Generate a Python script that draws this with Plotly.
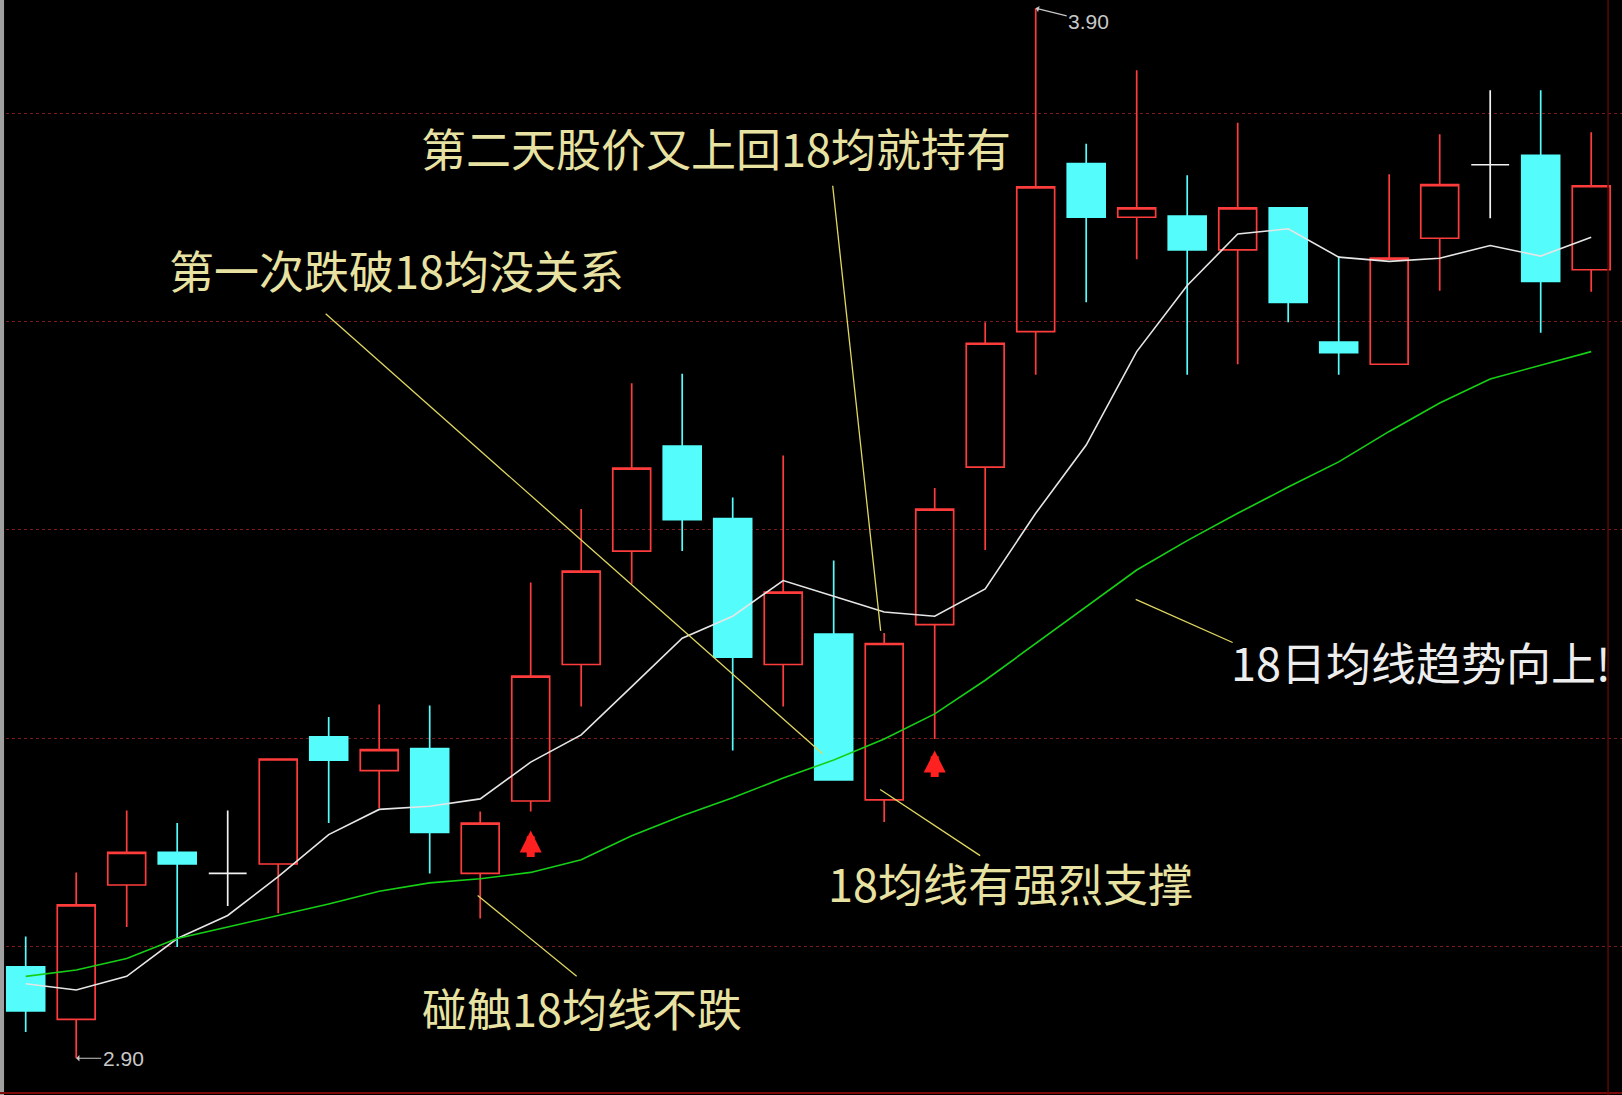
import plotly.graph_objects as go

# ---------------- data ----------------
days = list(range(1, 33))
open_ = [2.987, 2.937, 3.065, 3.096, 3.076, 3.085, 3.206, 3.174, 3.195, 3.076,
         3.145, 3.275, 3.383, 3.483, 3.414, 3.275, 3.304, 3.146, 3.313, 3.463,
         3.592, 3.752, 3.701, 3.702, 3.670, 3.710, 3.582, 3.561, 3.681, 3.751,
         3.760, 3.651]
high = [3.016, 3.077, 3.136, 3.124, 3.136, 3.185, 3.225, 3.237, 3.236, 3.135,
        3.353, 3.423, 3.543, 3.552, 3.434, 3.474, 3.374, 3.305, 3.443, 3.601,
        3.900, 3.771, 3.841, 3.741, 3.791, 3.710, 3.664, 3.742, 3.780, 3.822,
        3.822, 3.782]
low = [2.925, 2.900, 3.025, 3.006, 3.045, 3.038, 3.124, 3.138, 3.076, 3.033,
       3.135, 3.235, 3.352, 3.383, 3.193, 3.235, 3.165, 3.125, 3.204, 3.384,
       3.551, 3.620, 3.661, 3.551, 3.561, 3.601, 3.551, 3.561, 3.631, 3.700,
       3.591, 3.630]
close = [2.945, 3.046, 3.096, 3.085, 3.076, 3.185, 3.184, 3.194, 3.115, 3.124,
         3.264, 3.364, 3.462, 3.413, 3.282, 3.344, 3.165, 3.295, 3.423, 3.581,
         3.730, 3.701, 3.710, 3.670, 3.710, 3.620, 3.572, 3.662, 3.732, 3.751,
         3.640, 3.731]
ma_short = [2.971, 2.965, 2.978, 3.014, 3.036, 3.073, 3.113, 3.137, 3.140, 3.147,
            3.182, 3.208, 3.254, 3.300, 3.321, 3.355, 3.340, 3.325, 3.321, 3.347,
            3.419, 3.484, 3.573, 3.636, 3.685, 3.690, 3.663, 3.659, 3.662, 3.674,
            3.664, 3.682]
ma18 = [2.978, 2.984, 2.995, 3.014, 3.025, 3.036, 3.047, 3.059, 3.067, 3.071,
        3.077, 3.089, 3.112, 3.131, 3.148, 3.167, 3.184, 3.204, 3.228, 3.260,
        3.295, 3.330, 3.365, 3.393, 3.419, 3.444, 3.468, 3.497, 3.524, 3.547,
        3.560, 3.573]
grid_prices = [3.800, 3.602, 3.404, 3.205, 3.006]
price_low_label = "2.90"
price_high_label = "3.90"

# annotation texts: (text, x, y, colour)
notes = [
    ("第二天股价又上回18均就持有", 14.67, 3.767, "#E8E2A2"),
    ("第一次跌破18均没关系", 8.35, 3.651, "#E8E2A2"),
    ("18日均线趋势向上!", 28.63, 3.278, "#EDEDED"),
    ("18均线有强烈支撑", 20.51, 3.067, "#E8E2A2"),
    ("碰触18均线不跌", 12.02, 2.948, "#E8E2A2"),
]
# callout lines: (x0, y0, x1, y1)
callouts = [
    (16.98, 3.731, 17.93, 3.307),
    (6.94, 3.609, 16.78, 3.190),
    (22.98, 3.337, 24.90, 3.296),
    (17.92, 3.156, 19.90, 3.093),
    (9.95, 3.055, 11.91, 2.978),
]
# red signal arrows (day, price of arrow tip)
signal_days = [11, 19]
signal_prices = [3.117, 3.193]

RED = "#FF3C3C"
CYAN = "#54FCFC"
WHITE = "#F2F2F2"

n = len(days)
up = [i for i in range(n) if close[i] > open_[i]]
dn = [i for i in range(n) if close[i] < open_[i]]
dj = [i for i in range(n) if close[i] == open_[i]]


def sub(arr, idx):
    return [arr[i] for i in idx]


fig = go.Figure()


def add_candles(idx, line_color, fill_color, name):
    style = dict(line=dict(color=line_color, width=1.7), fillcolor=fill_color)
    fig.add_trace(go.Candlestick(
        x=sub(days, idx), open=sub(open_, idx), high=sub(high, idx),
        low=sub(low, idx), close=sub(close, idx),
        increasing=style, decreasing=style, whiskerwidth=0,
        name=name, showlegend=False, hoverinfo="x+y"))


add_candles(up, RED, "rgba(0,0,0,0)", "阳线")
add_candles(dn, CYAN, CYAN, "阴线")
add_candles(dj, WHITE, WHITE, "十字星")

fig.add_trace(go.Scatter(x=days, y=ma_short, mode="lines",
                         line=dict(color="#E6E6E6", width=1.6),
                         name="短期均线", showlegend=False))
fig.add_trace(go.Scatter(x=days, y=ma18, mode="lines",
                         line=dict(color="#16D016", width=1.6),
                         name="18日均线", showlegend=False))

annotations = []
for text, x, y, col in notes:
    annotations.append(dict(x=x, y=y, xref="x", yref="y", text=text,
                            showarrow=False, xanchor="center", yanchor="middle",
                            font=dict(family="Noto Sans CJK SC", size=45, color=col)))

# low / high price labels
i_low = low.index(min(low))
i_high = high.index(max(high))
annotations.append(dict(x=days[i_low], y=low[i_low], xref="x", yref="y",
                        text=price_low_label, showarrow=True, ax=47, ay=0,
                        arrowhead=1, arrowsize=0.9, arrowwidth=1.2,
                        arrowcolor="#C8C8C8", borderpad=1,
                        font=dict(family="Liberation Sans", size=21, color="#C8C8C8")))
annotations.append(dict(x=days[i_high], y=high[i_high], xref="x", yref="y",
                        text=price_high_label, showarrow=True, ax=53, ay=13,
                        arrowhead=1, arrowsize=0.9, arrowwidth=1.2,
                        arrowcolor="#C8C8C8", borderpad=1,
                        font=dict(family="Liberation Sans", size=21, color="#C8C8C8")))

for d, p in zip(signal_days, signal_prices):
    annotations.append(dict(x=d, y=p, xref="x", yref="y", text="",
                            showarrow=True, ax=0, ay=28,
                            arrowhead=2, arrowsize=0.55, arrowwidth=8,
                            arrowcolor="#FF2020"))

shapes = []
for x0, y0, x1, y1 in callouts:
    shapes.append(dict(type="line", xref="x", yref="y", x0=x0, y0=y0, x1=x1, y1=y1,
                       line=dict(color="#E0D860", width=1.3)))
# frame
shapes.append(dict(type="rect", xref="paper", yref="paper", x0=0, x1=0.0025, y0=0, y1=1,
                   fillcolor="#A0A0A0", line=dict(width=0), layer="above"))
shapes.append(dict(type="line", xref="paper", yref="paper", x0=0, x1=1, y0=0.0018, y1=0.0018,
                   line=dict(color="#7A0A0A", width=2)))
shapes.append(dict(type="line", xref="paper", yref="paper", x0=0.9914, x1=0.9914, y0=0, y1=1,
                   line=dict(color="#5A0808", width=1.5)))

fig.update_layout(
    width=1622, height=1095,
    margin=dict(l=0, r=0, t=0, b=0),
    paper_bgcolor="black", plot_bgcolor="black",
    showlegend=False,
    boxgap=0.25, boxgroupgap=0,
    annotations=annotations, shapes=shapes,
    xaxis=dict(range=[0.491, 32.61], showgrid=False, zeroline=False, showline=False,
               showticklabels=False, ticks="", rangeslider=dict(visible=False),
               fixedrange=True),
    yaxis=dict(range=[2.865, 3.9079], tickvals=grid_prices, showticklabels=False,
               ticks="", showgrid=True, griddash="dot", gridcolor="#7A1A1A",
               gridwidth=1, zeroline=False, showline=False, fixedrange=True),
)

page_fix = ("document.body.style.margin='0px';document.body.style.padding='0px';"
            "document.body.style.background='black';document.body.style.overflow='hidden';")
fig.write_html("out.html", post_script=page_fix, config={"displayModeBar": False})
